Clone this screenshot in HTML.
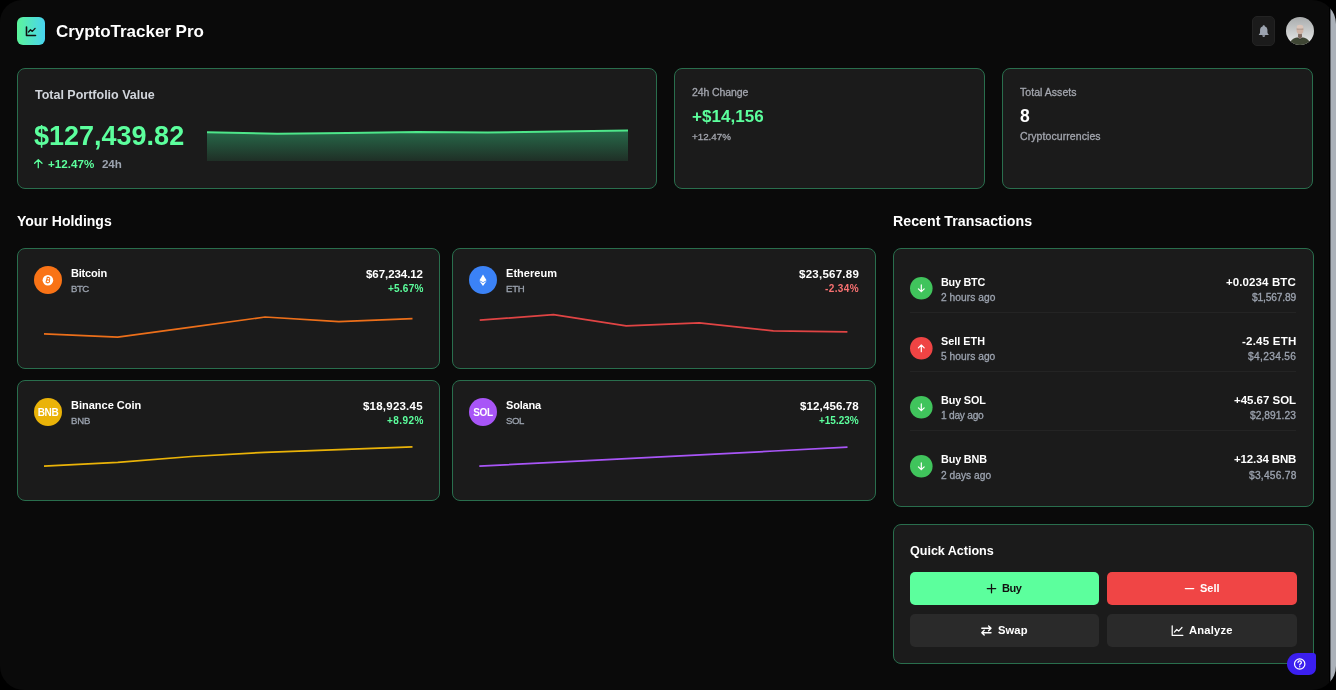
<!DOCTYPE html>
<html><head><meta charset="utf-8"><style>
html,body{margin:0;padding:0;background:#000;width:1336px;height:690px;overflow:hidden}
#win{position:absolute;left:0;top:0;width:1336px;height:690px;border-radius:22px 24px 24px 24px;overflow:hidden;background:#0a0a0a;font-family:"Liberation Sans",sans-serif}
.t{position:absolute;white-space:nowrap;line-height:1;will-change:transform}
.abs{position:absolute}
.m{-webkit-text-stroke:0.3px currentColor}
.card{position:absolute;box-sizing:border-box;background:#1b1b1b;border:1px solid #296e4d;border-radius:8px}
.logo{position:absolute;border-radius:6px;background:linear-gradient(90deg,#5cf59a,#48d4f0)}
.bell{position:absolute;box-sizing:border-box;border-radius:5px;background:#1b1b1b;border:1px solid #232323}
.avatar{position:absolute;border-radius:50%;background:radial-gradient(circle at 50% 35%,#f2f2f2 0,#cfd1d1 40%,#9a9d9c 75%);overflow:hidden}
.coin{position:absolute;will-change:transform;width:28px;height:28px;border-radius:50%;display:flex;align-items:center;justify-content:center}
.coin .inner{width:11px;height:11px;border-radius:50%;background:#fff;display:flex;align-items:center;justify-content:center;font-size:8px;color:#f97316;font-weight:700;line-height:1}
.coin .sym{font-size:10px;font-weight:700;color:#fff;letter-spacing:-0.4px;margin-top:1px}
.btn{position:absolute;border-radius:5px}
.help{position:absolute;background:#3b1ff0;border-radius:11px 3px 7px 11px}
#sb{position:absolute;left:1329px;top:0;width:7px;height:690px;background:linear-gradient(90deg,#000 0,#000 1px,#60646a 1px,#60646a 2px,#aab0b8 2px)}
</style></head><body><div id="win">
<div class="logo" style="left:17px;top:17px;width:28px;height:28px;"><svg width="28" height="28" viewBox="0 0 28 28"><path d="M9.5 10v8.5h9" fill="none" stroke="#111" stroke-width="1.6" stroke-linecap="round" stroke-linejoin="round"/><path d="M11.5 15l2-2.2 1.8 1.6 2.8-3" fill="none" stroke="#111" stroke-width="1.3" stroke-linecap="round" stroke-linejoin="round"/></svg></div>
<div class="t" style="left:56px;top:23.03px;font-size:17px;font-weight:700;color:#fff;letter-spacing:-0.028px;">CryptoTracker Pro</div>
<div class="bell" style="left:1252px;top:16px;width:23px;height:30px;"><svg class="abs" style="left:-1px;top:-1px" width="23" height="30" viewBox="0 0 23 30"><path d="M11.75 9.3c-.7 0-1.1.5-1.2 1.1-1.7.5-2.5 1.9-2.5 3.6v2.3c0 .6-.3 1.2-.7 1.6l-.5.5v.5h9.8v-.5l-.5-.5c-.4-.4-.7-1-.7-1.6v-2.3c0-1.7-.8-3.1-2.5-3.6-.1-.6-.5-1.1-1.2-1.1z" fill="#9ca3af"/><path d="M10.3 19.3h2.9c0 .9-.6 1.6-1.45 1.6s-1.45-.7-1.45-1.6z" fill="#9ca3af"/></svg></div>
<svg class="abs" style="left:1286px;top:17px" width="28" height="28" viewBox="0 0 28 28"><defs><clipPath id="avc"><circle cx="14" cy="14" r="14"/></clipPath><linearGradient id="avg" x1="0" y1="0" x2="0" y2="1"><stop offset="0" stop-color="#a9acad"/><stop offset="0.6" stop-color="#cfd1d1"/><stop offset="1" stop-color="#ececec"/></linearGradient></defs><g clip-path="url(#avc)"><rect width="28" height="28" fill="url(#avg)"/><path d="M3.5 28c.6-4.2 3-6.6 6.8-7.6l3.7 1.4 3.7-1.4c3.8 1 6.2 3.4 6.8 7.6z" fill="#3f4634"/><path d="M12.2 16.5h3.6l.3 3.8-2.1 1.6-2.1-1.6z" fill="#7d685e"/><ellipse cx="14" cy="12.6" rx="3.5" ry="4.6" fill="#cfb3a5"/><ellipse cx="14" cy="10" rx="3.2" ry="2.2" fill="#dcc5b9"/><path d="M10.7 12.1h6.6" stroke="#77706c" stroke-width=".45"/><path d="M11 20.5l3 2 3-2" fill="none" stroke="#2c3126" stroke-width=".6"/></g></svg>
<div class="card" style="left:17px;top:68px;width:640px;height:121px;"></div>
<div class="t" style="left:35px;top:88.94px;font-size:12.5px;font-weight:700;color:#d1d5db;letter-spacing:-0.005px;">Total Portfolio Value</div>
<div class="t" style="left:34px;top:122.82px;font-size:27px;font-weight:700;color:#5cff9d;">$127,439.82</div>
<div class="t" style="left:48px;top:158.33px;font-size:11.6px;font-weight:700;color:#5cff9d;letter-spacing:0.025px;">+12.47%</div>
<div class="t" style="left:101.5px;top:158.33px;font-size:11.6px;font-weight:700;color:#9ca3af;letter-spacing:-0.125px;">24h</div>
<svg class="abs" style="left:32px;top:156px" width="14" height="14" viewBox="0 0 14 14"><path d="M6.3 3.6v8.1M2.6 7.3L6.3 3.6l3.7 3.7" fill="none" stroke="#5cff9d" stroke-width="1.3" stroke-linecap="round" stroke-linejoin="round"/></svg>
<svg class="abs" style="left:0;top:0" width="1336" height="690"><defs><linearGradient id="ag" x1="0" y1="0" x2="0" y2="1"><stop offset="0" stop-color="#276a4a" stop-opacity="1"/><stop offset="1" stop-color="#1f2f26"/></linearGradient></defs><polygon points="207.0,132.2 277.2,133.7 347.3,133.0 417.5,132.0 487.7,132.6 557.8,131.5 628.0,130.6 628,161 207,161" fill="url(#ag)"/><polyline points="207.0,132.2 277.2,133.7 347.3,133.0 417.5,132.0 487.7,132.6 557.8,131.5 628.0,130.6" fill="none" stroke="#4ee68a" stroke-width="2"/></svg>
<div class="card" style="left:674px;top:68px;width:311px;height:121px;"></div>
<div class="t m" style="left:691.5px;top:87.29px;font-size:10.5px;font-weight:400;color:#a3a6ae;letter-spacing:-0.111px;">24h Change</div>
<div class="t" style="left:692px;top:108.03px;font-size:17px;font-weight:700;color:#5cff9d;letter-spacing:0.043px;">+$14,156</div>
<div class="t m" style="left:692px;top:132.08px;font-size:9.8px;font-weight:400;color:#a3a6ae;">+12.47%</div>
<div class="card" style="left:1002px;top:68px;width:311px;height:121px;"></div>
<div class="t m" style="left:1019.5px;top:87.29px;font-size:10.5px;font-weight:400;color:#a3a6ae;letter-spacing:0.041px;">Total Assets</div>
<div class="t" style="left:1020px;top:107.84px;font-size:17.5px;font-weight:700;color:#fff;">8</div>
<div class="t m" style="left:1019.5px;top:131.29px;font-size:10.5px;font-weight:400;color:#a3a6ae;letter-spacing:0.083px;">Cryptocurrencies</div>
<div class="t" style="left:16.8px;top:214.32px;font-size:14px;font-weight:700;color:#fff;letter-spacing:0.008px;">Your Holdings</div>
<div class="t" style="left:893px;top:214.23px;font-size:14.2px;font-weight:700;color:#fff;letter-spacing:0.017px;">Recent Transactions</div>
<div class="card" style="left:17px;top:248px;width:423px;height:121px;"></div>
<div class="coin" style="left:34px;top:266px;background:#f97316"><svg width="28" height="28" viewBox="0 0 28 28"><circle cx="13.9" cy="14.2" r="5.3" fill="#fff"/><g transform="rotate(14 13.9 14.2)" fill="none" stroke="#f97316" stroke-width="1.05"><path d="M12.6 11.4h1.6a1.25 1.25 0 0 1 0 2.5h-1.6zM12.6 13.9h1.9a1.35 1.35 0 0 1 0 2.7h-1.9zM12.6 11v6M13.9 10.7v.8M13.9 16.7v.7"/></g></svg></div>
<div class="t" style="left:71px;top:268.09px;font-size:11px;font-weight:700;color:#fff;letter-spacing:-0.192px;">Bitcoin</div>
<div class="t m" style="left:71px;top:284.17px;font-size:9.6px;font-weight:400;color:#9ca3af;letter-spacing:-0.500px;">BTC</div>
<div class="t" style="right:913.06px;top:268.87px;font-size:11.5px;font-weight:700;color:#fff;letter-spacing:-0.061px;">$67,234.12</div>
<div class="t" style="right:912.77px;top:284.01px;font-size:10px;font-weight:700;color:#5cff9d;letter-spacing:0.230px;">+5.67%</div>
<svg class="abs" style="left:0;top:0" width="1336" height="690"><polyline points="44.0,333.9 117.7,337.2 191.4,327.2 265.1,317.0 338.8,321.6 412.5,318.6" fill="none" stroke="#ec6f1a" stroke-width="1.7" stroke-linejoin="round"/></svg>
<div class="card" style="left:452px;top:248px;width:424px;height:121px;"></div>
<div class="coin" style="left:469px;top:266px;background:#3b82f6"><svg width="28" height="28" viewBox="0 0 28 28"><path d="M14 8.6l-3.5 5.6 3.5 2 3.5-2z" fill="#fff"/><path d="M14 17l-3.6-2.1 3.6 5.1 3.6-5.1z" fill="#fff"/></svg></div>
<div class="t" style="left:506px;top:268.09px;font-size:11px;font-weight:700;color:#fff;letter-spacing:0.050px;">Ethereum</div>
<div class="t m" style="left:506px;top:284.17px;font-size:9.6px;font-weight:400;color:#9ca3af;letter-spacing:-0.225px;">ETH</div>
<div class="t" style="right:476.74px;top:268.87px;font-size:11.5px;font-weight:700;color:#fff;letter-spacing:0.256px;">$23,567.89</div>
<div class="t" style="right:476.62px;top:284.01px;font-size:10px;font-weight:700;color:#f87171;letter-spacing:0.380px;">-2.34%</div>
<svg class="abs" style="left:0;top:0" width="1336" height="690"><polyline points="479.7,320.1 553.5,314.7 626.2,325.9 699.3,322.8 773.3,330.9 847.4,331.9" fill="none" stroke="#e04444" stroke-width="1.7" stroke-linejoin="round"/></svg>
<div class="card" style="left:17px;top:380px;width:423px;height:121px;"></div>
<div class="coin" style="left:34px;top:398px;background:#eab308"><span class="sym">BNB</span></div>
<div class="t" style="left:71px;top:400.09px;font-size:11px;font-weight:700;color:#fff;">Binance Coin</div>
<div class="t m" style="left:71px;top:416.17px;font-size:9.6px;font-weight:400;color:#9ca3af;letter-spacing:-0.125px;">BNB</div>
<div class="t" style="right:912.78px;top:400.87px;font-size:11.5px;font-weight:700;color:#fff;letter-spacing:0.222px;">$18,923.45</div>
<div class="t" style="right:912.57px;top:416.01px;font-size:10px;font-weight:700;color:#5cff9d;letter-spacing:0.430px;">+8.92%</div>
<svg class="abs" style="left:0;top:0" width="1336" height="690"><polyline points="44.0,466.2 117.7,462.3 191.4,456.5 265.1,452.3 338.8,449.7 412.5,446.9" fill="none" stroke="#eab308" stroke-width="1.7" stroke-linejoin="round"/></svg>
<div class="card" style="left:452px;top:380px;width:424px;height:121px;"></div>
<div class="coin" style="left:469px;top:398px;background:#a855f7"><span class="sym">SOL</span></div>
<div class="t" style="left:506px;top:400.09px;font-size:11px;font-weight:700;color:#fff;letter-spacing:-0.200px;">Solana</div>
<div class="t m" style="left:506px;top:416.17px;font-size:9.6px;font-weight:400;color:#9ca3af;letter-spacing:-0.375px;">SOL</div>
<div class="t" style="right:476.87px;top:400.87px;font-size:11.5px;font-weight:700;color:#fff;letter-spacing:0.128px;">$12,456.78</div>
<div class="t" style="right:477.02px;top:416.01px;font-size:10px;font-weight:700;color:#5cff9d;letter-spacing:-0.017px;">+15.23%</div>
<svg class="abs" style="left:0;top:0" width="1336" height="690"><polyline points="479.3,466.2 553.0,462.4 626.6,458.6 700.2,454.9 773.9,451.0 847.5,447.2" fill="none" stroke="#a855f7" stroke-width="1.7" stroke-linejoin="round"/></svg>
<div class="card" style="left:893px;top:248px;width:421px;height:259px;"></div>
<svg class="abs" style="left:910px;top:277.3px" width="23" height="23" viewBox="0 0 23 23"><circle cx="11.3" cy="11.3" r="11.3" fill="#40c45c"/><path d="M11.3 7.9v6.8M8.4 11.8l2.9 2.9 2.9-2.9" fill="none" stroke="#fff" stroke-width="1.2" stroke-linecap="round" stroke-linejoin="round"/></svg>
<div class="t" style="left:941px;top:277.16px;font-size:10.8px;font-weight:700;color:#fff;letter-spacing:-0.225px;">Buy BTC</div>
<div class="t m" style="left:941px;top:292.92px;font-size:10.2px;font-weight:400;color:#9ca3af;letter-spacing:0.060px;">2 hours ago</div>
<div class="t" style="right:39.90px;top:276.87px;font-size:11.5px;font-weight:700;color:#fff;letter-spacing:0.100px;">+0.0234 BTC</div>
<div class="t m" style="right:40.14px;top:292.92px;font-size:10.2px;font-weight:400;color:#9ca3af;letter-spacing:-0.144px;">$1,567.89</div>
<div class="abs" style="left:910px;top:312.0px;width:386px;height:1px;background:#242424"></div>
<svg class="abs" style="left:910px;top:336.5px" width="23" height="23" viewBox="0 0 23 23"><circle cx="11.3" cy="11.3" r="11.3" fill="#ef4444"/><path d="M11.3 14.7v-6.8M8.4 10.8l2.9-2.9 2.9 2.9" fill="none" stroke="#fff" stroke-width="1.2" stroke-linecap="round" stroke-linejoin="round"/></svg>
<div class="t" style="left:941px;top:336.16px;font-size:10.8px;font-weight:700;color:#fff;letter-spacing:0.021px;">Sell ETH</div>
<div class="t m" style="left:941px;top:351.92px;font-size:10.2px;font-weight:400;color:#9ca3af;letter-spacing:0.045px;">5 hours ago</div>
<div class="t" style="right:39.77px;top:335.87px;font-size:11.5px;font-weight:700;color:#fff;letter-spacing:0.231px;">-2.45 ETH</div>
<div class="t m" style="right:39.66px;top:351.92px;font-size:10.2px;font-weight:400;color:#9ca3af;letter-spacing:0.337px;">$4,234.56</div>
<div class="abs" style="left:910px;top:371.2px;width:386px;height:1px;background:#242424"></div>
<svg class="abs" style="left:910px;top:395.7px" width="23" height="23" viewBox="0 0 23 23"><circle cx="11.3" cy="11.3" r="11.3" fill="#40c45c"/><path d="M11.3 7.9v6.8M8.4 11.8l2.9 2.9 2.9-2.9" fill="none" stroke="#fff" stroke-width="1.2" stroke-linecap="round" stroke-linejoin="round"/></svg>
<div class="t" style="left:941px;top:395.16px;font-size:10.8px;font-weight:700;color:#fff;letter-spacing:-0.133px;">Buy SOL</div>
<div class="t m" style="left:941px;top:410.92px;font-size:10.2px;font-weight:400;color:#9ca3af;letter-spacing:-0.250px;">1 day ago</div>
<div class="t" style="right:40.02px;top:394.87px;font-size:11.5px;font-weight:700;color:#fff;letter-spacing:-0.022px;">+45.67 SOL</div>
<div class="t m" style="right:39.93px;top:410.92px;font-size:10.2px;font-weight:400;color:#9ca3af;letter-spacing:0.069px;">$2,891.23</div>
<div class="abs" style="left:910px;top:430.4px;width:386px;height:1px;background:#242424"></div>
<svg class="abs" style="left:910px;top:454.9px" width="23" height="23" viewBox="0 0 23 23"><circle cx="11.3" cy="11.3" r="11.3" fill="#40c45c"/><path d="M11.3 7.9v6.8M8.4 11.8l2.9 2.9 2.9-2.9" fill="none" stroke="#fff" stroke-width="1.2" stroke-linecap="round" stroke-linejoin="round"/></svg>
<div class="t" style="left:941px;top:454.16px;font-size:10.8px;font-weight:700;color:#fff;letter-spacing:-0.133px;">Buy BNB</div>
<div class="t m" style="left:941px;top:470.92px;font-size:10.2px;font-weight:400;color:#9ca3af;letter-spacing:0.033px;">2 days ago</div>
<div class="t" style="right:40.13px;top:453.87px;font-size:11.5px;font-weight:700;color:#fff;letter-spacing:-0.133px;">+12.34 BNB</div>
<div class="t m" style="right:39.75px;top:470.92px;font-size:10.2px;font-weight:400;color:#9ca3af;letter-spacing:0.250px;">$3,456.78</div>
<div class="card" style="left:893px;top:524px;width:421px;height:140px;"></div>
<div class="t" style="left:910px;top:544.91px;font-size:12.6px;font-weight:700;color:#fff;letter-spacing:-0.037px;">Quick Actions</div>
<div class="btn" style="left:910px;top:572px;width:189px;height:33px;background:#5cff9d"></div>
<div class="btn" style="left:1107px;top:572px;width:189.5px;height:33px;background:#f04545"></div>
<div class="btn" style="left:910px;top:614px;width:189px;height:33px;background:#2a2a2a"></div>
<div class="btn" style="left:1107px;top:614px;width:189.5px;height:33px;background:#2a2a2a"></div>
<div class="t" style="left:1002px;top:583.09px;font-size:11px;font-weight:700;color:#111;letter-spacing:-0.500px;">Buy</div>
<div class="t" style="left:1199.5px;top:583.09px;font-size:11px;font-weight:700;color:#fff;letter-spacing:0.033px;">Sell</div>
<div class="t" style="left:998px;top:624.99px;font-size:11.2px;font-weight:700;color:#fff;letter-spacing:0.100px;">Swap</div>
<div class="t" style="left:1188.5px;top:624.99px;font-size:11.2px;font-weight:700;color:#fff;letter-spacing:0.192px;">Analyze</div>
<svg class="abs" style="left:985px;top:582px" width="13" height="13" viewBox="0 0 13 13"><path d="M6.5 2.4v8.4M2.3 6.6h8.4" stroke="#111" stroke-width="1.3" stroke-linecap="round"/></svg>
<svg class="abs" style="left:1183px;top:582px" width="13" height="13" viewBox="0 0 13 13"><path d="M2.3 6.6h8.4" stroke="#fff" stroke-width="1.3" stroke-linecap="round"/></svg>
<svg class="abs" style="left:980px;top:624px" width="13" height="13" viewBox="0 0 13 13"><path d="M1.8 4.3h9.2M8.6 1.9l2.4 2.4-2.4 2.4M11 8.7H1.8M4.2 6.3L1.8 8.7l2.4 2.4" fill="none" stroke="#fff" stroke-width="1.4" stroke-linecap="round" stroke-linejoin="round"/></svg>
<svg class="abs" style="left:1171px;top:625px" width="13" height="12" viewBox="0 0 13 12"><path d="M1.2 0.8v9.6h10.6" fill="none" stroke="#fff" stroke-width="1.25" stroke-linecap="round" stroke-linejoin="round"/><path d="M3.4 7.2l2.4-2.7 1.9 1.6 3.3-3.6" fill="none" stroke="#fff" stroke-width="1.2" stroke-linecap="round" stroke-linejoin="round"/></svg>
<div class="help" style="left:1287px;top:652.5px;width:29px;height:22.5px;"><svg width="29" height="23" viewBox="0 0 29 23"><circle cx="12.7" cy="11" r="5.2" fill="none" stroke="#fff" stroke-width="1.2"/><path d="M11 9.6c0-1 .8-1.7 1.7-1.7s1.7.7 1.7 1.6c0 1.2-1.7 1.3-1.7 2.5" fill="none" stroke="#fff" stroke-width="1.2" stroke-linecap="round"/><circle cx="12.7" cy="13.8" r=".7" fill="#fff"/></svg></div>
<div id="sb"></div>
</div></body></html>
